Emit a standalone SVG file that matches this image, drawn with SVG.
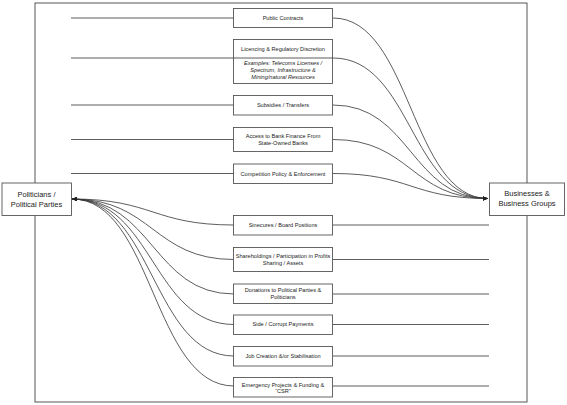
<svg xmlns="http://www.w3.org/2000/svg" width="567" height="405" viewBox="0 0 567 405">
<defs>
<marker id="ah" markerWidth="6" markerHeight="6" refX="5" refY="3" orient="auto" markerUnits="userSpaceOnUse">
<path d="M0,1 L5,3 L0,5 z" fill="#222"/>
</marker>
<style>
.box{fill:#fff;stroke:#555;stroke-width:0.9}
.t{font-family:"Liberation Sans",Arial,sans-serif;font-size:5.6px;fill:#222;text-anchor:middle}
.it{font-style:italic}
.big{font-size:7.5px}
.ln{fill:none;stroke:#333;stroke-width:0.8}
.fr{fill:none;stroke:#444;stroke-width:0.9}
</style>
</defs>
<rect width="567" height="405" fill="#fff"/>
<rect class="fr" x="35" y="3" width="492" height="399"/>
<g id="connectors">
<path class="ln" d="M71,18 H234"/>
<path class="ln" d="M71,58 H333"/>
<path class="ln" d="M71,105 H234"/>
<path class="ln" d="M71,139.5 H234"/>
<path class="ln" d="M71,173.5 H234"/>
<path class="ln" d="M333,18 C411,18 411,198.5 488,198.5" marker-end="url(#ah)"/>
<path class="ln" d="M333,58 C411,58 411,198.5 488,198.5" marker-end="url(#ah)"/>
<path class="ln" d="M333,105 C411,105 411,198.5 488,198.5" marker-end="url(#ah)"/>
<path class="ln" d="M333,139.5 C411,139.5 411,198.5 488,198.5" marker-end="url(#ah)"/>
<path class="ln" d="M333,173.5 C411,173.5 411,198.5 488,198.5" marker-end="url(#ah)"/>
<path class="ln" d="M333,225 H489"/>
<path class="ln" d="M333,259.5 H489"/>
<path class="ln" d="M333,294 H489"/>
<path class="ln" d="M333,324.5 H489"/>
<path class="ln" d="M333,356 H489"/>
<path class="ln" d="M333,386 H489"/>
<path class="ln" d="M234,225 C153,225 153,199 72,199" marker-end="url(#ah)"/>
<path class="ln" d="M234,259.5 C153,259.5 153,199 72,199" marker-end="url(#ah)"/>
<path class="ln" d="M234,294 C153,294 153,199 72,199" marker-end="url(#ah)"/>
<path class="ln" d="M234,324.5 C153,324.5 153,199 72,199" marker-end="url(#ah)"/>
<path class="ln" d="M234,356 C153,356 153,199 72,199" marker-end="url(#ah)"/>
<path class="ln" d="M234,386 C153,386 153,199 72,199" marker-end="url(#ah)"/>
</g>
<g id="politicians">
<rect class="box" x="2" y="183" width="69.5" height="32.5"/>
<text class="t big" x="36.5" y="197">Politicians /</text>
<text class="t big" x="36.5" y="207">Political Parties</text>
</g>
<g id="businesses">
<rect class="box" x="489.5" y="183" width="75" height="32.5"/>
<text class="t big" x="527" y="196">Businesses &amp;</text>
<text class="t big" x="527" y="206">Business Groups</text>
</g>
<g id="public-contracts">
<rect class="box" x="233.5" y="8.5" width="99" height="19"/>
<text class="t" x="283" y="20.2">Public Contracts</text>
</g>
<g id="licencing">
<rect class="box" x="233.5" y="39.5" width="99" height="44"/>
<line x1="233.5" y1="58" x2="332.5" y2="58" stroke="#333" stroke-width="0.8"/>
<text class="t" x="283" y="51">Licencing &amp; Regulatory Discretion</text>
<text class="t it" x="283" y="64.5">Examples: Telecoms Licenses /</text>
<text class="t it" x="283" y="71.5">Spectrum, Infrastructure &amp;</text>
<text class="t it" x="283" y="78.5">Mining/natural Resources</text>
</g>
<g id="subsidies">
<rect class="box" x="233.5" y="95.5" width="99" height="19.5"/>
<text class="t" x="283" y="107">Subsidies / Transfers</text>
</g>
<g id="bank-finance">
<rect class="box" x="233.5" y="127.5" width="99" height="24"/>
<text class="t" x="283" y="138">Access to Bank Finance From</text>
<text class="t" x="283" y="144.5">State-Owned Banks</text>
</g>
<g id="competition">
<rect class="box" x="233.5" y="164" width="99" height="19.5"/>
<text class="t" x="283" y="175.5">Competition Policy &amp; Enforcement</text>
</g>
<g id="sinecures">
<rect class="box" x="233.5" y="215.5" width="99" height="19.5"/>
<text class="t" x="283" y="227">Sinecures / Board Positions</text>
</g>
<g id="shareholdings">
<rect class="box" x="233.5" y="247.5" width="99" height="24"/>
<text class="t" x="283" y="258">Shareholdings / Participation in Profits</text>
<text class="t" x="283" y="264.7">Sharing / Assets</text>
</g>
<g id="donations">
<rect class="box" x="233.5" y="284" width="99" height="19.5"/>
<text class="t" x="283" y="292.3">Donations to Political Parties &amp;</text>
<text class="t" x="283" y="299.3">Politicians</text>
</g>
<g id="side-payments">
<rect class="box" x="233.5" y="315" width="99" height="19.5"/>
<text class="t" x="283" y="326.3">Side / Corrupt Payments</text>
</g>
<g id="job-creation">
<rect class="box" x="233.5" y="346.5" width="99" height="19.5"/>
<text class="t" x="283" y="358">Job Creation &amp;/or Stabilisation</text>
</g>
<g id="emergency">
<rect class="box" x="233.5" y="377.5" width="99" height="19.5"/>
<text class="t" x="283" y="386.5">Emergency Projects &amp; Funding &amp;</text>
<text class="t" x="283" y="393">“CSR”</text>
</g>
</svg>
